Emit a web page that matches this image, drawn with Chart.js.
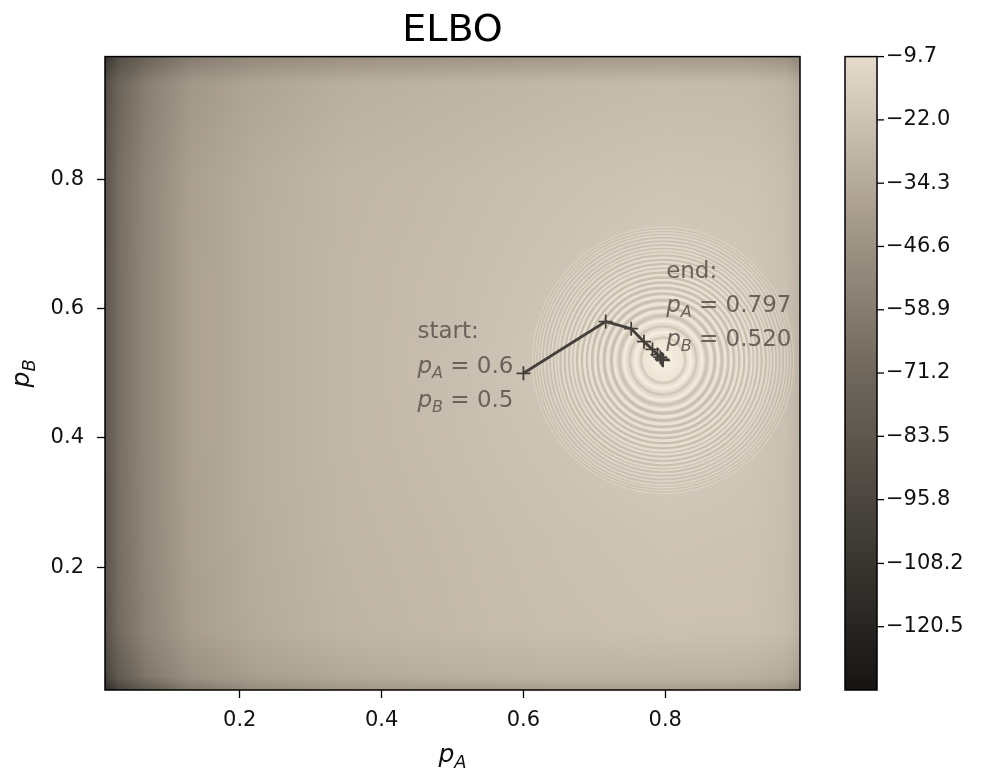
<!DOCTYPE html>
<html>
<head>
<meta charset="utf-8">
<title>ELBO</title>
<script src="https://cdn.jsdelivr.net/npm/chart.js@4.4.1/dist/chart.umd.min.js"></script>
<style>
  html, body { margin: 0; padding: 0; background: #fff; }
  canvas { display: block; }
</style>
</head>
<body>
<canvas id="elbo" width="994" height="777"></canvas>
<script>
// optimisation path (p_A, p_B)
const pathA = [0.600, 0.716, 0.752, 0.770, 0.782, 0.789, 0.793, 0.795, 0.796, 0.797];
const pathB = [0.500, 0.580, 0.569, 0.549, 0.537, 0.529, 0.525, 0.522, 0.521, 0.520];

const axisTicks = [0.2, 0.4, 0.6, 0.8];
const cbTicks = [-9.7, -22.0, -34.3, -46.6, -58.9, -71.2, -83.5, -95.8, -108.2, -120.5];
const cbMin = -132.8;
const cbMax = -9.7;

// coarse ELBO surface, estimated from the shading
const gridA = [0.01, 0.03, 0.07, 0.13, 0.22, 0.35, 0.5, 0.65, 0.8, 0.92, 0.97, 0.99];
const gridB = [0.01, 0.03, 0.1, 0.25, 0.4, 0.52, 0.65, 0.8, 0.95, 0.99];
const elbo = [
  [-118, -98, -80, -62, -50, -44, -42, -40, -40, -42, -46, -55],
  [-100, -80, -62, -48, -40, -35, -32, -30, -30, -31, -34, -40],
  [-88, -69, -54, -41, -34, -29, -26.5, -24.5, -23, -23, -25.5, -31],
  [-86, -67, -53, -39.5, -33, -28, -26, -23.5, -21.5, -22, -24.5, -30],
  [-85, -66.5, -52.5, -39, -32.5, -27.5, -25, -21.5, -17, -20, -23.5, -29.5],
  [-85, -66.5, -52.5, -39, -32.5, -27.5, -24.5, -19.5, -9.7, -17, -22.5, -29],
  [-85, -66.5, -52.5, -39, -32.5, -27.5, -25, -21.5, -17, -20, -23.5, -29.5],
  [-86, -67, -53, -39.5, -33, -28, -26, -23.5, -21.5, -22, -24.5, -30],
  [-92, -73, -58, -44, -37, -32, -29.5, -27.5, -26, -26.5, -29, -35],
  [-110, -90, -74, -60, -52, -48, -46, -44, -43, -44, -47, -55]
];

// contour rings round the optimum (radius in p_A units)
const ringRadii = [0.039, 0.055, 0.068, 0.078, 0.088, 0.096, 0.104, 0.111, 0.118, 0.125, 0.130,
                   0.136, 0.142, 0.148, 0.152, 0.157, 0.162, 0.167, 0.172, 0.176, 0.180, 0.184];

const FONT = '"DejaVu Sans", "Liberation Sans", sans-serif';
const lineColor = '#45403b';
const textColor = '#6a635b';

// dark -> beige colour map
const cmapStops = [
  [0.00, [22, 21, 20]],
  [0.25, [66, 62, 56]],
  [0.50, [112, 104, 93]],
  [0.75, [168, 157, 142]],
  [1.00, [230, 220, 205]]
];

function colorFor(v) {
  let t = (v - cbMin) / (cbMax - cbMin);
  t = Math.max(0, Math.min(1, t));
  for (let i = 1; i < cmapStops.length; i++) {
    if (t <= cmapStops[i][0]) {
      const [t0, c0] = cmapStops[i - 1];
      const [t1, c1] = cmapStops[i];
      const f = (t - t0) / (t1 - t0);
      return [0, 1, 2].map(k => c0[k] + (c1[k] - c0[k]) * f);
    }
  }
  return cmapStops[cmapStops.length - 1][1];
}

function findCell(arr, v) {
  if (v <= arr[0]) return [0, 0];
  if (v >= arr[arr.length - 1]) return [arr.length - 2, 1];
  let i = 0;
  while (arr[i + 1] < v) i++;
  return [i, (v - arr[i]) / (arr[i + 1] - arr[i])];
}

function sampleGrid(a, b) {
  const [i, fa] = findCell(gridA, a);
  const [j, fb] = findCell(gridB, b);
  const v00 = elbo[j][i], v10 = elbo[j][i + 1];
  const v01 = elbo[j + 1][i], v11 = elbo[j + 1][i + 1];
  return (v00 * (1 - fa) + v10 * fa) * (1 - fb) + (v01 * (1 - fa) + v11 * fa) * fb;
}

// heatmap + rings under the path
const heatmapPlugin = {
  id: 'heatmap',
  beforeDatasetsDraw(chart) {
    const { ctx, chartArea: ca, scales: { x, y } } = chart;
    const w = Math.round(ca.right - ca.left);
    const h = Math.round(ca.bottom - ca.top);
    const off = document.createElement('canvas');
    off.width = w; off.height = h;
    const octx = off.getContext('2d');
    const img = octx.createImageData(w, h);
    for (let py = 0; py < h; py++) {
      const b = y.getValueForPixel(ca.top + py + 0.5);
      for (let px = 0; px < w; px++) {
        const a = x.getValueForPixel(ca.left + px + 0.5);
        const c = colorFor(sampleGrid(a, b));
        const k = (py * w + px) * 4;
        img.data[k] = c[0]; img.data[k + 1] = c[1]; img.data[k + 2] = c[2]; img.data[k + 3] = 255;
      }
    }
    octx.putImageData(img, 0, 0);
    ctx.drawImage(off, ca.left, ca.top);

    // rings
    const cA = pathA[pathA.length - 1], cB = pathB[pathB.length - 1];
    const cx = x.getPixelForValue(cA), cy = y.getPixelForValue(cB);
    ctx.save();
    ctx.beginPath();
    ctx.rect(ca.left, ca.top, ca.right - ca.left, ca.bottom - ca.top);
    ctx.clip();
    const glow = ctx.createRadialGradient(cx, cy, 0, cx, cy, x.getPixelForValue(cA + 0.07) - cx);
    glow.addColorStop(0, 'rgba(248,240,226,0.95)');
    glow.addColorStop(1, 'rgba(248,240,226,0)');
    ctx.fillStyle = glow;
    ctx.fillRect(ca.left, ca.top, ca.right - ca.left, ca.bottom - ca.top);
    ctx.filter = 'blur(0.7px)';
    const n = ringRadii.length;
    ringRadii.forEach((r, k) => {
      const fade = 1 - 0.6 * k / n;
      const rx = x.getPixelForValue(cA + r) - cx;
      const ry = cy - y.getPixelForValue(cB + r * 1.12);
      const prev = k === 0 ? r * 0.6 : ringRadii[k - 1];
      const mid = (r + prev) / 2;
      const mrx = x.getPixelForValue(cA + mid) - cx;
      const mry = cy - y.getPixelForValue(cB + mid * 1.12);
      ctx.beginPath();
      ctx.ellipse(cx, cy, mrx, mry, 0, 0, Math.PI * 2);
      ctx.strokeStyle = `rgba(160,148,132,${0.28 * fade})`;
      ctx.lineWidth = Math.max(1.2, 3 - k * 0.09);
      ctx.stroke();
      ctx.beginPath();
      ctx.ellipse(cx, cy, rx, ry, 0, 0, Math.PI * 2);
      ctx.strokeStyle = `rgba(250,244,232,${0.6 * fade})`;
      ctx.lineWidth = Math.max(1.3, 3.4 - k * 0.1);
      ctx.stroke();
    });
    ctx.restore();
  }
};

function mathWidth(ctx, sym, sub, rest, size) {
  ctx.font = `italic ${size}px ${FONT}`;
  let w = ctx.measureText(sym).width;
  ctx.font = `italic ${Math.round(size * 0.7)}px ${FONT}`;
  w += ctx.measureText(sub).width;
  if (rest) { ctx.font = `${size}px ${FONT}`; w += ctx.measureText(rest).width; }
  return w;
}

function drawMath(ctx, x0, y0, sym, sub, rest, size) {
  ctx.textAlign = 'left';
  ctx.textBaseline = 'alphabetic';
  ctx.font = `italic ${size}px ${FONT}`;
  ctx.fillText(sym, x0, y0);
  let w = ctx.measureText(sym).width;
  ctx.font = `italic ${Math.round(size * 0.7)}px ${FONT}`;
  ctx.fillText(sub, x0 + w, y0 + size * 0.22);
  w += ctx.measureText(sub).width;
  if (rest) {
    ctx.font = `${size}px ${FONT}`;
    ctx.fillText(rest, x0 + w, y0);
  }
}

// frame, annotations, axis titles
const labelPlugin = {
  id: 'labels',
  afterDatasetsDraw(chart) {
    const { ctx, chartArea: ca, scales: { x, y } } = chart;
    ctx.save();
    ctx.strokeStyle = '#000';
    ctx.lineWidth = 1.5;
    ctx.strokeRect(ca.left, ca.top, ca.right - ca.left, ca.bottom - ca.top);

    const size = 23;
    ctx.fillStyle = textColor;
    const last = pathA.length - 1;
    const sx = x.getPixelForValue(pathA[0]), sy = y.getPixelForValue(pathB[0]);
    const left = sx - 106;
    ctx.font = `${size}px ${FONT}`;
    ctx.textAlign = 'left';
    ctx.textBaseline = 'alphabetic';
    ctx.fillText('start:', left, sy - 35);
    drawMath(ctx, left, sy, 'p', 'A', ' = ' + pathA[0], size);
    drawMath(ctx, left, sy + 34, 'p', 'B', ' = ' + pathB[0], size);

    const ex = x.getPixelForValue(pathA[last]), ey = y.getPixelForValue(pathB[last]);
    const eleft = ex + 3;
    ctx.font = `${size}px ${FONT}`;
    ctx.fillText('end:', eleft, ey - 82);
    drawMath(ctx, eleft, ey - 48, 'p', 'A', ' = ' + pathA[last].toFixed(3), size);
    drawMath(ctx, eleft, ey - 14, 'p', 'B', ' = ' + pathB[last].toFixed(3), size);

    // axis titles
    ctx.fillStyle = '#111';
    const ts = 25;
    const wA = mathWidth(ctx, 'p', 'A', '', ts);
    drawMath(ctx, (ca.left + ca.right) / 2 - wA / 2, ca.bottom + 72, 'p', 'A', '', ts);
    ctx.translate(29, (ca.top + ca.bottom) / 2);
    ctx.rotate(-Math.PI / 2);
    const wB = mathWidth(ctx, 'p', 'B', '', ts);
    drawMath(ctx, -wB / 2, 0, 'p', 'B', '', ts);
    ctx.restore();
  }
};

// colour bar on its own hidden scale
const colorbarPlugin = {
  id: 'colorbar',
  afterDraw(chart) {
    const { ctx, scales: { cb } } = chart;
    const left = 845, right = 877;
    const top = cb.getPixelForValue(cbMax), bottom = cb.getPixelForValue(cbMin);
    ctx.save();
    for (let py = Math.floor(top); py < Math.ceil(bottom); py++) {
      const c = colorFor(cb.getValueForPixel(py + 0.5));
      ctx.fillStyle = `rgb(${c[0] | 0},${c[1] | 0},${c[2] | 0})`;
      ctx.fillRect(left, py, right - left, 1);
    }
    ctx.strokeStyle = '#000';
    ctx.lineWidth = 1.5;
    ctx.strokeRect(left, top, right - left, bottom - top);
    ctx.fillStyle = '#111';
    ctx.font = `21px ${FONT}`;
    ctx.textAlign = 'left';
    ctx.textBaseline = 'middle';
    cbTicks.forEach(v => {
      const py = cb.getPixelForValue(v);
      ctx.beginPath();
      ctx.moveTo(right, py);
      ctx.lineTo(right + 7, py);
      ctx.lineWidth = 1.3;
      ctx.stroke();
      ctx.fillText(v.toFixed(1).replace('-', '\u2212'), right + 9, py);
    });
    ctx.restore();
  }
};

const tickFont = { family: FONT, size: 21 };

new Chart(document.getElementById('elbo'), {
  type: 'scatter',
  data: {
    datasets: [{
      data: pathA.map((a, i) => ({ x: a, y: pathB[i] })),
      showLine: true,
      borderColor: lineColor,
      borderWidth: 2.8,
      pointStyle: 'cross',
      pointRadius: 7,
      pointBorderWidth: 1.8,
      pointBorderColor: lineColor,
      pointBackgroundColor: 'transparent'
    }]
  },
  options: {
    responsive: false,
    animation: false,
    devicePixelRatio: 1,
    layout: { padding: { left: 45, right: 194, top: 0, bottom: 47 } },
    plugins: {
      legend: { display: false },
      tooltip: { enabled: false },
      title: {
        display: true,
        text: 'ELBO',
        fullSize: false,
        color: '#000',
        font: { family: FONT, size: 38, weight: 'normal' },
        padding: { top: 8, bottom: 3 }
      }
    },
    scales: {
      x: {
        type: 'linear',
        min: 0.01,
        max: 0.99,
        afterBuildTicks: s => { s.ticks = axisTicks.map(v => ({ value: v })); },
        afterFit: s => { s.height = 40; },
        ticks: { font: tickFont, color: '#111', padding: 10, callback: v => v.toFixed(1) },
        grid: { drawOnChartArea: false, drawTicks: true, tickLength: 8, tickColor: '#000', tickWidth: 1.3 },
        border: { display: false }
      },
      y: {
        type: 'linear',
        min: 0.01,
        max: 0.99,
        afterBuildTicks: s => { s.ticks = axisTicks.map(v => ({ value: v })); },
        afterFit: s => { s.width = 60; },
        ticks: { font: tickFont, color: '#111', padding: 13, callback: v => v.toFixed(1) },
        grid: { drawOnChartArea: false, drawTicks: true, tickLength: 8, tickColor: '#000', tickWidth: 1.3 },
        border: { display: false }
      },
      cb: {
        type: 'linear',
        position: 'right',
        display: false,
        min: cbMin,
        max: cbMax
      }
    }
  },
  plugins: [heatmapPlugin, labelPlugin, colorbarPlugin]
});
</script>
</body>
</html>
